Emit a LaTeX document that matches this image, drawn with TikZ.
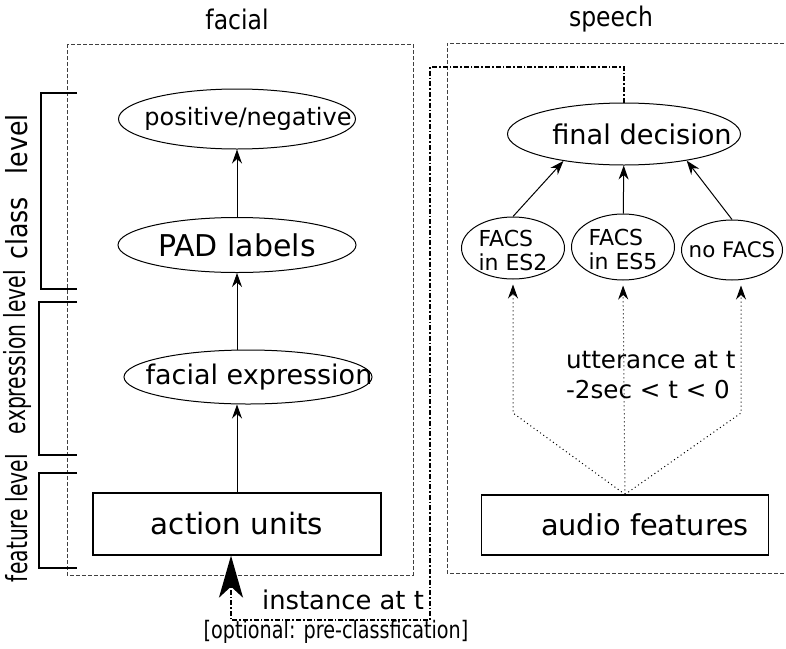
\documentclass[tikz,border=0pt]{standalone}
\usepackage{fontspec}
\setmainfont{DejaVu Sans}
\newfontfamily\condfont[FakeStretch=0.8]{DejaVu Sans}
\newfontfamily\narrowfont[FakeStretch=0.7]{DejaVu Sans}
\newfontfamily\semifont[FakeStretch=0.87]{DejaVu Sans}
\usetikzlibrary{positioning, arrows.meta, shapes.geometric}

\newcommand{\fsz}[1]{\fontsize{#1}{#1}\selectfont}
% text that does not widen its oval; optional shift in pt = shift in px
\newcommand{\ovaltxt}[2][0pt]{\makebox[0pt]{\hspace*{#1}#2}}
\newcommand{\twolines}[2]{\raisebox{-5.5pt}[0pt][0pt]{\begin{tabular}{@{}l@{}}#1\\#2\end{tabular}}}

\begin{document}
\begin{tikzpicture}[
  x=0.5pt, y=-0.5pt,
  oval/.style={ellipse, draw, line width=0.5pt, inner sep=0pt},
  box/.style={rectangle, draw, line width=0.6pt, inner sep=0pt},
  frame/.style={draw=black!75, line width=0.5pt, dash pattern=on 2.2pt off 0.8pt},
  bracket/.style={line width=0.8pt},
  arr/.style={-{Stealth[length=7pt, width=5pt]}, line width=0.5pt},
  dots/.style={arr, dash pattern=on 0.5pt off 1.5pt, shorten >=2.5pt},
  inst/.style={-{Stealth[length=21pt, width=12pt, inset=5.5pt]}, line width=1.1pt,
               dash pattern=on 2.5pt off 1pt on 0.8pt off 1pt},
  lvl/.style={rotate=90, font=\narrowfont\fsz{14.5pt}},
  title/.style={font=\semifont\fsz{13.5pt}},
  small/.style={font=\fontsize{11pt}{11.5pt}\selectfont}
]
\useasboundingbox (0,0) rectangle (786,648);

% titles and frames
\node[title] (facialtitle) at (237,19) {facial};
\node[title] (speechtitle) at (611,19) {speech};
\draw[frame] (67,44) rectangle (413,575);
\draw[frame] (790,43) -| (447,573) -- (790,573);

% levels
\draw[bracket] (77,93) -| (41,289) -- (77,289);
\draw[bracket] (77,302) -| (39,455) -- (77,455);
\draw[bracket] (77,473) -| (39,568) -- (77,568);
\node[lvl, font=\semifont\fsz{14.5pt}] (classlvl) at (17,187) {class\hspace{11.5pt}level};
\node[lvl] (exprlvl) at (17,352) {expression level};
\node[lvl] (featlvl) at (17,518) {feature level};

% facial side
\node[box, minimum width=144pt, minimum height=31pt, font=\fsz{14.7pt}] (action) at (237,524) {action units};
\node[oval, minimum width=124pt, minimum height=27pt, font=\fsz{13.5pt}] (facexp) at (248,377) {\ovaltxt[11pt]{facial expression}};
\node[oval, minimum width=119pt, minimum height=27.5pt, font=\fsz{15pt}] (pad) at (237,245) {\ovaltxt{PAD labels}};
\node[oval, minimum width=118.5pt, minimum height=30pt, font=\fsz{12pt}] (posneg) at (237,119) {\ovaltxt[11pt]{positive/negative}};
\draw[arr] (action.north) -- (action.north |- facexp.south);
\draw[arr] (pad.south |- facexp.north) -- (pad.south);
\draw[arr] (pad) -- (posneg);

% speech side
\node[oval, minimum width=116.5pt, minimum height=31pt, font=\fsz{13.6pt}] (final) at (624,134) {\ovaltxt[18pt]{final decision}};
\node[oval, small, minimum width=51.5pt, minimum height=31pt] (es2) at (513,248) {\ovaltxt{\twolines{FACS}{in ES2}}};
\node[oval, small, minimum width=51.5pt, minimum height=33pt] (es5) at (623,247) {\ovaltxt{\twolines{FACS}{in ES5}}};
\node[oval, font=\fsz{10.7pt}, minimum width=50.5pt, minimum height=30pt] (nofacs) at (732,250) {\ovaltxt{no FACS}};
\node[box, minimum width=143.5pt, minimum height=30pt, font=\fsz{14.4pt}] (audio) at (625,525) {\hspace*{20pt}audio features};
\node[anchor=west, align=left, font=\fontsize{12.3pt}{15pt}\selectfont] (utter) at (559,375) {utterance at t\\-2sec < t < 0};
\draw[arr] (es2.north) -- (final.204);
\draw[arr] (es5) -- (final);
\draw[arr] (nofacs.north) -- (final.-23);

\coordinate (bendL) at (513,413);
\coordinate (bendR) at (741,413);
\draw[dots] (audio.north) -- (bendL) -- (es2.south);
\draw[dots] (audio.north) -- (es5.south);
\draw[dots] (audio.north) -- (bendR) -- (bendR |- nofacs.south);

% instance path
\coordinate (topturn) at (430,67);
\coordinate (botturn) at (430,620);
\coordinate (instance) at (231,620);
\draw[inst] (final.north) |- (topturn) -- (botturn) -- (instance) -- (instance |- action.south);
\node[font=\fsz{12.9pt}] (insttext) at (343,600) {instance at t};
\node[font=\condfont\fsz{12pt}] (optional) at (336,632) {[optional: pre-classfication]};
\end{tikzpicture}
\end{document}
